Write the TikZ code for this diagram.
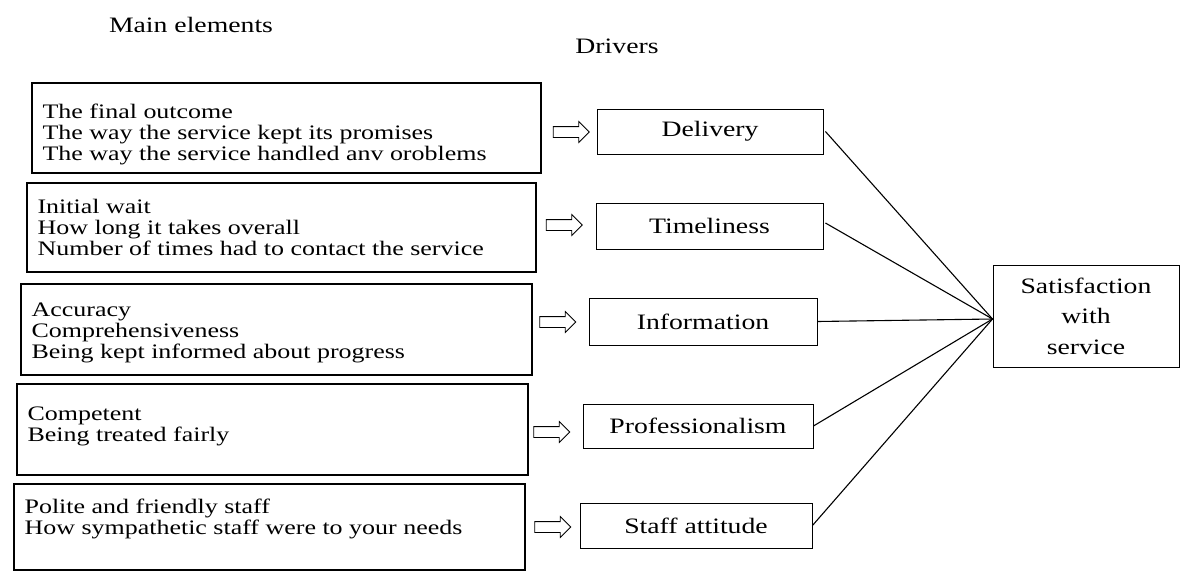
\documentclass[tikz,border=0pt]{standalone}
\usepackage{fontspec}
\setmainfont[FakeStretch=1.26]{Liberation Serif}
\usetikzlibrary{shapes.arrows}
\begin{document}
\begin{tikzpicture}[x=1pt,y=-1pt,
  head/.style={font=\fontsize{22}{24}\selectfont, inner sep=0pt},
  elembox/.style={draw, line width=1.2pt, inner sep=0pt},
  elemtxt/.style={anchor=west, align=left, inner sep=0pt, font=\fontsize{20.6}{21}\selectfont},
  driver/.style={draw, line width=0.9pt, minimum height=45pt, inner sep=0pt, font=\fontsize{22}{26}\selectfont},
  hollow/.style={draw, single arrow, line width=0.8pt, minimum height=36pt, inner xsep=0pt, inner ysep=5pt, single arrow head extend=5pt},
  link/.style={line width=1.1pt}]
\useasboundingbox (0,0) rectangle (1181,574);
\node[head] (hmain) at (191,25) {Main elements};
\node[head] (hdrv) at (617,46) {Drivers};
% element boxes
\node[elembox, minimum width=509pt, minimum height=90pt] (e1) at (286.5,128) {};
\node[elemtxt] (t1) at ([xshift=11pt,yshift=-6pt]e1.west)
  {The final outcome\\The way the service kept its promises\\The way the service handled anv oroblems};
\node[elembox, minimum width=509pt, minimum height=89pt] (e2) at (281.5,227.5) {};
\node[elemtxt] (t2) at ([xshift=11pt]e2.west)
  {Initial wait\\How long it takes overall\\Number of times had to contact the service};
\node[elembox, minimum width=511pt, minimum height=91pt] (e3) at (276.5,329.5) {};
\node[elemtxt] (t3) at ([xshift=11pt,yshift=-3.5pt]e3.west)
  {Accuracy\\Comprehensiveness\\Being kept informed about progress};
\node[elembox, minimum width=511pt, minimum height=91pt] (e4) at (272.5,429.5) {};
\node[elemtxt] (t4) at ([xshift=11pt,yshift=3pt]e4.west)
  {Competent\\Being treated fairly};
\node[elembox, minimum width=511pt, minimum height=86pt] (e5) at (269.5,527) {};
\node[elemtxt] (t5) at ([xshift=11pt,yshift=8pt]e5.west)
  {Polite and friendly staff\\How sympathetic staff were to your needs};
% drivers
\node[driver, minimum width=226pt] (d1) at (710,131.5) {Delivery};
\node[driver, minimum width=227pt, minimum height=46pt] (d2) at (709.5,226) {Timeliness};
\node[driver, minimum width=228pt, minimum height=47pt] (d3) at (703,321.5) {Information};
\node[driver, minimum width=230pt, minimum height=44pt] (d4) at (698,426) {Professionalism};
\node[driver, minimum width=232pt] (d5) at (696,525.5) {Staff attitude};
% hollow arrows
\node[hollow] (a1) at (568.5,132) {};
\node[hollow] (a2) at (561.5,225) {};
\node[hollow] (a3) at (555,322) {};
\node[hollow] (a4) at (549,432) {};
\node[hollow] (a5) at (550,527) {};
% outcome
\node[draw, line width=1pt, minimum width=186pt, minimum height=102pt, align=center, inner sep=0pt, font=\fontsize{22}{30.5}\selectfont] (sat) at (1086,316) {Satisfaction\\with\\service};
\coordinate (hub) at ([yshift=-3pt]sat.west);
\draw[link] ([xshift=2pt]d1.east) -- (hub);
\draw[link] ([xshift=2pt,yshift=3pt]d2.east) -- (hub);
\draw[link] (d3.east) -- (hub);
\draw[link] (d4.east) -- (hub);
\draw[link] (d5.east) -- (hub);
\end{tikzpicture}
\end{document}
